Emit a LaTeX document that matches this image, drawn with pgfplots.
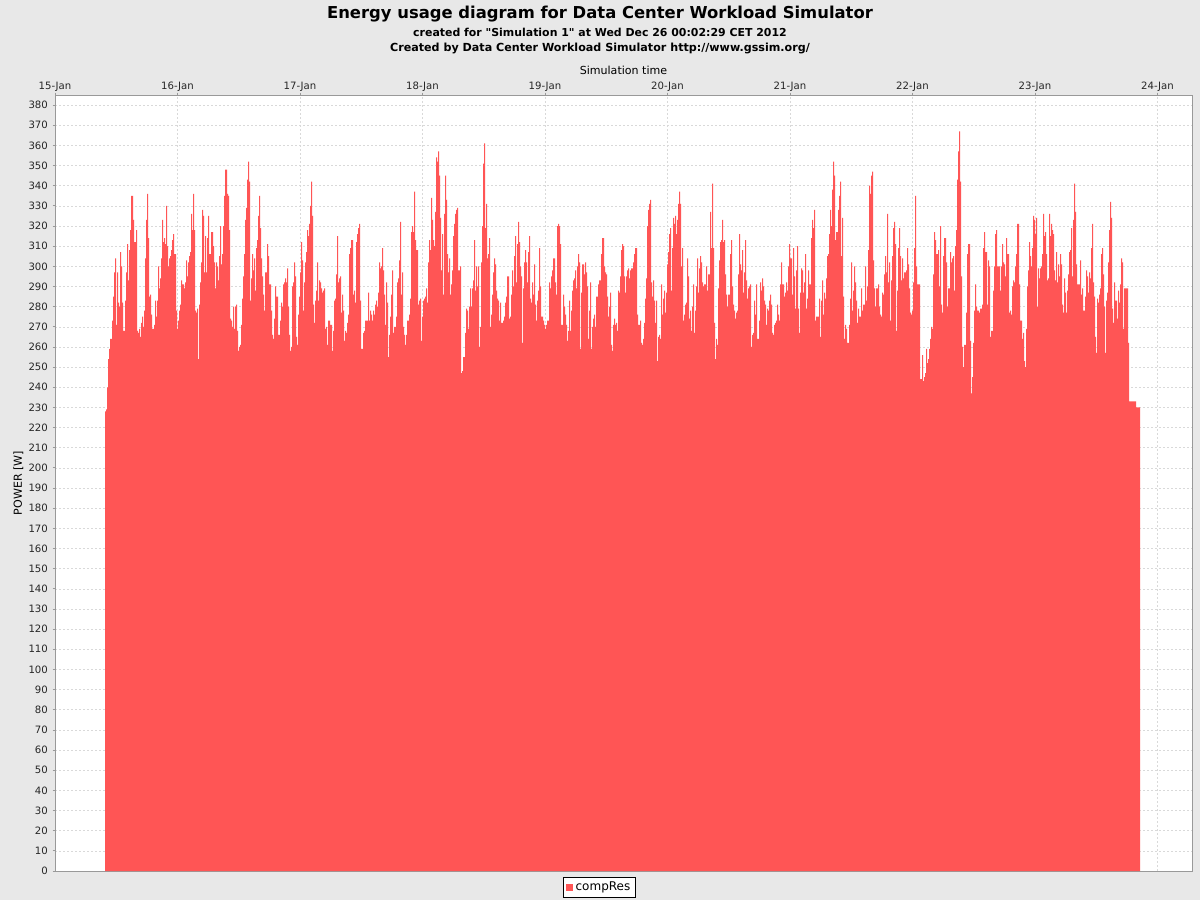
\documentclass[border=0pt]{standalone}
\usepackage{pgfplots}
\pgfplotsset{compat=1.18}
\usepackage{fontspec}
\setmainfont{DejaVu Sans}
% same face without the TeX mapping, so " stays a straight quote
\newfontfamily\plainfont{DejaVu Sans}
\definecolor{chartbg}{HTML}{E8E8E8}
\definecolor{seriesred}{HTML}{FF5555}
\definecolor{gridgray}{HTML}{D9D9D9}
\definecolor{framegray}{HTML}{999999}

\begin{document}
\begin{tikzpicture}[x=0.75pt,y=0.75pt]
% chart canvas, 1200 x 900 px
\fill[chartbg] (0,0) rectangle (1200,900);
\useasboundingbox (0,0) rectangle (1200,900);
\node[font=\bfseries\fontsize{12.3}{15}\selectfont] at (600,886)
  {Energy usage diagram for Data Center Workload Simulator};
\node[font=\plainfont\bfseries\fontsize{8.2}{10}\selectfont] at (600,868)
  {created for "Simulation 1" at Wed Dec 26 00:02:29 CET 2012};
\node[font=\bfseries\fontsize{8.35}{10}\selectfont] at (600,852)
  {Created by Data Center Workload Simulator http://www.gssim.org/};

% x is the sample index (one sample ~ 11.8 min), 0 = first sample
\begin{axis}[
  at={(41.25pt,21.75pt)}, anchor=south west,
  scale only axis, width=852.75pt, height=582pt,
  xmin=-50, xmax=1087, ymin=0, ymax=385,
  axis background/.style={fill=white},
  axis line style={framegray},
  xtick={-50,72.5,195,317.5,440,562.5,685,807.5,930,1052.5},
  xticklabels={15-Jan,16-Jan,17-Jan,18-Jan,19-Jan,20-Jan,21-Jan,22-Jan,23-Jan,24-Jan},
  xtick pos=upper, xticklabel pos=upper,
  ytick={0,10,...,380}, ytick pos=lower,
  tick align=outside, major tick length=1.8pt,
  tick style={framegray, line width=0.6pt},
  grid=major,
  grid style={gridgray, dash pattern=on 1.5pt off 1.5pt, line width=0.4pt},
  tick label style={font=\fontsize{7.6}{9}\selectfont, text=black!85},
  xticklabel style={yshift=-3pt},
  /pgf/number format/assume math mode=true,
  xlabel={Simulation time}, ylabel={POWER [W]},
  label style={font=\fontsize{8.3}{10}\selectfont},
  xlabel style={yshift=-1pt},
  ylabel style={yshift=-3pt},
  legend style={at={(0.479,0)}, anchor=north, yshift=-4.5pt, draw=black,
    font=\fontsize{9}{10}\selectfont, inner xsep=2pt, inner ysep=1.5pt},
  legend image code/.code={\fill[seriesred] (0pt,-2.5pt) rectangle (5pt,2.5pt);},
]
\addplot[const plot mark left, fill=seriesred, draw=none] coordinates {
(0,228)(1,229)(2,240)(3,254)(4,259)(5,264)(6,264)(7,273)(8,285)(9,297)
(10,304)(11,271)(12,297)(13,282)(14,280)(15,307)(16,300)(17,282)(18,268)(19,268)
(20,283)(21,297)(22,311)(23,293)(24,308)(25,318)(26,335)(27,335)(28,323)(29,312)
(30,312)(31,318)(32,268)(33,267)(34,269)(35,265)(36,272)(37,275)(38,270)(39,278)
(40,304)(41,323)(42,336)(43,314)(44,285)(45,286)(46,276)(47,269)(48,269)(49,271)
(50,283)(51,275)(52,283)(53,300)(54,289)(55,294)(56,304)(57,323)(58,312)(59,314)
(60,311)(61,330)(62,310)(63,300)(64,304)(65,305)(66,308)(67,313)(68,316)(69,306)
(70,306)(71,278)(72,269)(73,273)(74,278)(75,281)(76,293)(77,291)(78,291)(79,289)
(80,292)(81,303)(82,295)(83,302)(84,305)(85,307)(86,326)(87,318)(88,336)(89,318)
(90,278)(91,277)(92,279)(93,254)(94,281)(95,292)(96,302)(97,328)(98,325)(99,297)
(100,315)(101,297)(102,314)(103,325)(104,306)(105,306)(106,317)(107,317)(108,310)(109,302)
(110,289)(111,302)(112,300)(113,293)(114,305)(115,320)(116,301)(117,306)(118,320)(119,335)
(120,348)(121,348)(122,336)(123,335)(124,318)(125,274)(126,273)(127,270)(128,280)(129,269)
(130,280)(131,281)(132,268)(133,258)(134,260)(135,261)(136,271)(137,284)(138,295)(139,306)
(140,323)(141,329)(142,343)(143,352)(144,342)(145,283)(146,294)(147,306)(148,298)(149,304)
(150,288)(151,309)(152,313)(153,325)(154,335)(155,319)(156,304)(157,295)(158,286)(159,278)
(160,297)(161,297)(162,311)(163,305)(164,291)(165,291)(166,278)(167,266)(168,264)(169,274)
(170,290)(171,285)(172,285)(173,266)
(174,266)(175,273)(176,282)(177,280)(178,291)(179,292)
(180,294)(181,292)(182,299)(183,280)(184,266)(185,258)(186,260)(187,290)(188,292)(189,302)
(190,295)(191,265)(192,261)(193,276)(194,285)(195,297)(196,312)(197,303)(198,278)(199,292)
(200,302)(201,307)(202,318)(203,315)(204,321)(205,330)(206,342)(207,325)(208,281)(209,272)
(210,283)(211,288)(212,302)(213,283)(214,293)(215,292)(216,289)(217,287)(218,288)(219,289)
(220,269)(221,270)(222,261)(223,273)(224,273)(225,271)(226,271)(227,258)(228,268)(229,283)
(230,284)(231,296)(232,315)(233,292)(234,294)(235,295)(236,277)(237,286)(238,278)(239,263)
(240,268)(241,267)(242,272)(243,276)(244,306)(245,309)(246,313)(247,313)(248,286)(249,288)
(250,282)(251,312)(252,316)(253,319)(254,321)(255,283)(256,259)(257,259)(258,267)(259,268)
(260,273)(261,273)(262,273)(263,287)(264,273)(265,278)(266,276)(267,273)(268,278)(269,276)
(270,281)(271,283)(272,280)(273,287)(274,302)(275,299)(276,300)(277,309)(278,298)(279,286)
(280,271)(281,292)(282,282)(283,255)(284,266)(285,275)(286,286)(287,298)(288,267)(289,270)
(290,270)(291,275)(292,292)(293,294)(294,303)(295,322)(296,286)(297,297)(298,270)(299,266)
(300,261)(301,266)(302,273)(303,273)(304,276)(305,284)(306,317)(307,320)(308,317)(309,337)
(310,313)(311,308)(312,308)(313,281)(314,283)(315,284)(316,263)(317,275)(318,283)(319,284)
(320,285)(321,289)(322,282)(323,302)(324,313)(325,308)(326,334)(327,323)(328,313)(329,310)
(330,327)(331,354)(332,352)(333,357)(334,345)(335,324)(336,298)(337,316)(338,286)(339,326)
(340,345)(341,333)(342,306)(343,297)(344,304)(345,286)(346,291)(347,298)(348,315)(349,321)
(350,326)(351,328)(352,329)(353,298)
(355,300)(356,247)(357,248)(358,255)(359,255)
(360,267)(361,279)(362,278)(363,269)(364,280)(365,289)(366,280)(367,289)(368,293)(369,313)
(370,288)(371,300)(372,290)(373,300)(374,260)(375,270)(376,302)(377,320)(378,351)(379,361)
(380,319)(381,331)(382,304)(383,306)(384,314)(385,270)(386,276)(387,286)(388,297)(389,304)
(390,301)(391,288)(392,284)(393,283)(394,273)(395,282)(396,272)(397,272)(398,273)(399,275)
(400,282)(401,285)(402,295)(403,295)(404,274)(405,275)(406,286)(407,298)(408,290)(409,305)
(410,315)(411,292)(412,311)(413,322)(414,312)(415,300)(416,295)(417,262)(418,289)(419,302)
(420,308)(421,302)(422,292)(423,307)(424,315)(425,284)(426,282)(427,292)(428,286)(429,301)
(430,281)(431,273)(432,283)(433,288)(434,309)(435,290)(436,275)(437,275)(438,273)(439,271)
(440,269)(441,271)(442,273)(443,273)(444,292)(445,289)(446,295)(447,298)(448,304)(449,304)
(450,292)(451,286)(452,320)(453,321)(454,320)(455,311)(456,271)(457,271)(458,286)(459,280)
(460,276)(461,271)(462,263)(463,268)(464,283)(465,268)(466,278)(467,288)(468,293)(469,294)
(470,298)(471,289)(472,300)(473,306)(474,302)(475,259)(476,287)(477,301)(478,301)(479,296)
(480,302)(481,297)(482,290)(483,264)(484,278)(485,292)(486,259)(487,270)(488,274)(489,276)
(490,270)(491,285)(492,285)(493,291)(494,293)(495,293)(496,306)(497,314)(498,314)(499,300)
(500,297)(501,296)(502,285)(503,275)(504,280)(505,287)(506,261)(507,258)(508,271)(509,274)
(510,271)(511,272)(512,268)(513,288)(514,287)(515,295)(516,308)(517,311)(518,310)(519,295)
(520,287)(521,295)(522,298)(523,299)(524,294)(525,298)(526,299)(527,299)(528,302)(529,306)
(530,309)(531,309)(532,276)(533,271)
(534,271)(535,273)(536,262)(537,261)(538,264)(539,272)
(540,284)(541,294)(542,320)(543,328)(544,331)(545,333)(546,292)(547,285)(548,293)(549,283)
(550,272)(551,283)(552,253)(553,265)(554,266)(555,264)(556,291)(557,276)(558,284)(559,288)
(560,277)(561,287)(562,301)(563,307)(564,316)(565,319)(566,288)(567,309)(568,324)(569,321)
(570,325)(571,316)(572,323)(573,331)(574,337)(575,331)(576,300)(577,309)(578,273)(579,276)
(580,281)(581,282)(582,304)(583,295)(584,274)(585,278)(586,268)(587,280)(588,291)(589,267)
(590,278)(591,290)(592,304)(593,287)(594,299)(595,305)(596,302)(597,292)(598,290)(599,291)
(600,291)(601,300)(602,288)(603,296)(604,296)(605,327)(606,309)(607,341)(608,309)(609,272)
(610,254)(611,264)(612,261)(613,289)(614,303)(615,312)(616,313)(617,323)(618,312)(619,313)
(620,296)(621,286)(622,280)(623,286)(624,286)(625,306)(626,313)(627,290)(628,281)(629,278)
(630,274)(631,277)(632,278)(633,296)(634,316)(635,301)(636,298)(637,308)(638,287)(639,297)
(640,313)(641,293)(642,284)(643,289)(644,290)(645,291)(646,260)(647,266)(648,267)(649,283)
(650,276)(651,291)(652,264)(653,264)(654,273)(655,292)(656,288)(657,294)(658,290)(659,283)
(660,281)(661,271)(662,279)(663,278)(664,283)(665,286)(666,281)(667,267)(668,266)(669,271)
(670,272)(671,273)(672,281)(673,276)(674,273)(675,291)(676,302)(677,291)(678,291)(679,285)
(680,287)(681,292)(682,288)(683,300)(684,311)(685,304)(686,304)(687,286)(688,309)(689,295)
(690,279)(691,298)(692,310)(693,279)(694,267)(695,287)(696,299)(697,298)(698,287)(699,292)
(700,306)(701,279)(702,284)(703,298)(704,291)(705,291)(706,314)(707,323)(708,319)(709,328)
(710,273)(711,275)
(714,284)(715,265)(716,283)(717,293)(718,276)(719,287)
(720,284)(721,294)(722,305)(723,306)(724,316)(725,328)(726,320)(727,338)(728,352)(729,345)
(730,313)(731,317)(732,317)(733,328)(734,335)(735,342)(736,305)(737,324)(738,285)(739,264)
(740,271)(741,269)(742,262)(743,262)(744,271)(745,284)(746,302)(747,278)(748,288)(749,300)
(750,292)(751,283)(752,272)(753,279)(754,275)(755,275)(756,289)(757,278)(758,281)(759,281)
(760,300)(761,283)(762,290)(763,308)(764,340)(765,336)(766,345)(767,347)(768,303)(769,289)
(770,280)(771,289)(772,289)(773,291)(774,280)(775,276)(776,275)(777,287)(778,286)(779,296)
(780,305)(781,297)(782,326)(783,292)(784,302)(785,273)(786,293)(787,305)(788,319)(789,322)
(790,311)(791,268)(792,288)(793,309)(794,319)(795,305)(796,293)(797,304)(798,294)(799,297)
(800,297)(801,298)(802,309)(803,301)(804,289)(805,277)(806,276)(807,278)(808,292)(809,309)
(810,335)(811,300)(812,291)(813,291)(814,291)(815,244)(816,244)(817,256)(818,243)(819,245)
(820,247)(821,259)(822,252)(823,254)(824,259)(825,264)(826,270)(827,269)(828,296)(829,317)
(830,313)(831,306)(832,306)(833,308)(834,290)(835,320)(836,281)(837,277)(838,305)(839,314)
(840,314)(841,302)(842,280)(843,289)(844,289)(845,307)(846,302)(847,304)(848,305)(849,288)
(850,310)(851,318)(852,343)(853,357)(854,367)(855,342)(856,295)(857,260)(858,250)(859,261)
(860,261)(861,277)(862,306)(863,311)(864,311)(865,263)(866,237)(867,245)(868,262)(869,278)
(870,291)(871,280)(872,278)(873,278)(874,277)(875,279)(876,279)(877,281)(878,309)(879,317)
(880,307)(881,307)(882,281)(883,303)(884,300)(885,265)(886,268)(887,268)(888,288)(889,300)
(890,316)(891,318)(892,300)
(895,288)(896,300)(897,311)(898,302)(899,301)
(900,295)(901,314)(902,306)(903,306)(904,277)(905,278)(906,276)(907,290)(908,293)(909,292)
(910,300)(911,306)(912,321)(913,321)(914,291)(915,273)(916,273)(917,264)(918,267)(919,253)
(920,250)(921,269)(922,290)(923,298)(924,312)(925,305)(926,300)(927,309)(928,325)(929,323)
(930,316)(931,324)(932,280)(933,299)(934,294)(935,299)(936,300)(937,306)(938,326)(939,315)
(940,317)(941,306)(942,293)(943,294)(944,326)(945,315)(946,321)(947,318)(948,316)(949,298)
(950,293)(951,307)(952,292)(953,301)(954,295)(955,306)(956,301)(957,281)(958,277)(959,294)
(960,287)(961,277)(962,288)(963,296)(964,307)(965,308)(966,319)(967,295)(968,323)(969,341)
(970,327)(971,301)(972,291)(973,291)(974,291)(975,303)(976,286)(977,289)(978,278)(979,278)
(980,285)(981,298)(982,295)(983,287)(984,297)(985,294)(986,309)(987,321)(988,292)(989,285)
(990,265)(991,257)(992,284)(993,282)(994,286)(995,289)(996,306)(997,309)(998,296)(999,280)
(1000,257)(1001,283)(1002,287)(1003,302)(1004,318)(1005,332)(1006,324)(1007,279)(1008,272)(1009,292)
(1010,283)(1011,283)(1012,274)(1013,288)(1014,282)(1015,291)(1016,304)(1017,302)(1018,269)(1019,289)
(1020,289)(1021,289)(1022,289)(1023,262)(1024,233)(1031,230)(1035,230)
} \closedcycle;
\addlegendentry{compRes}
\end{axis}
\end{tikzpicture}
\end{document}
